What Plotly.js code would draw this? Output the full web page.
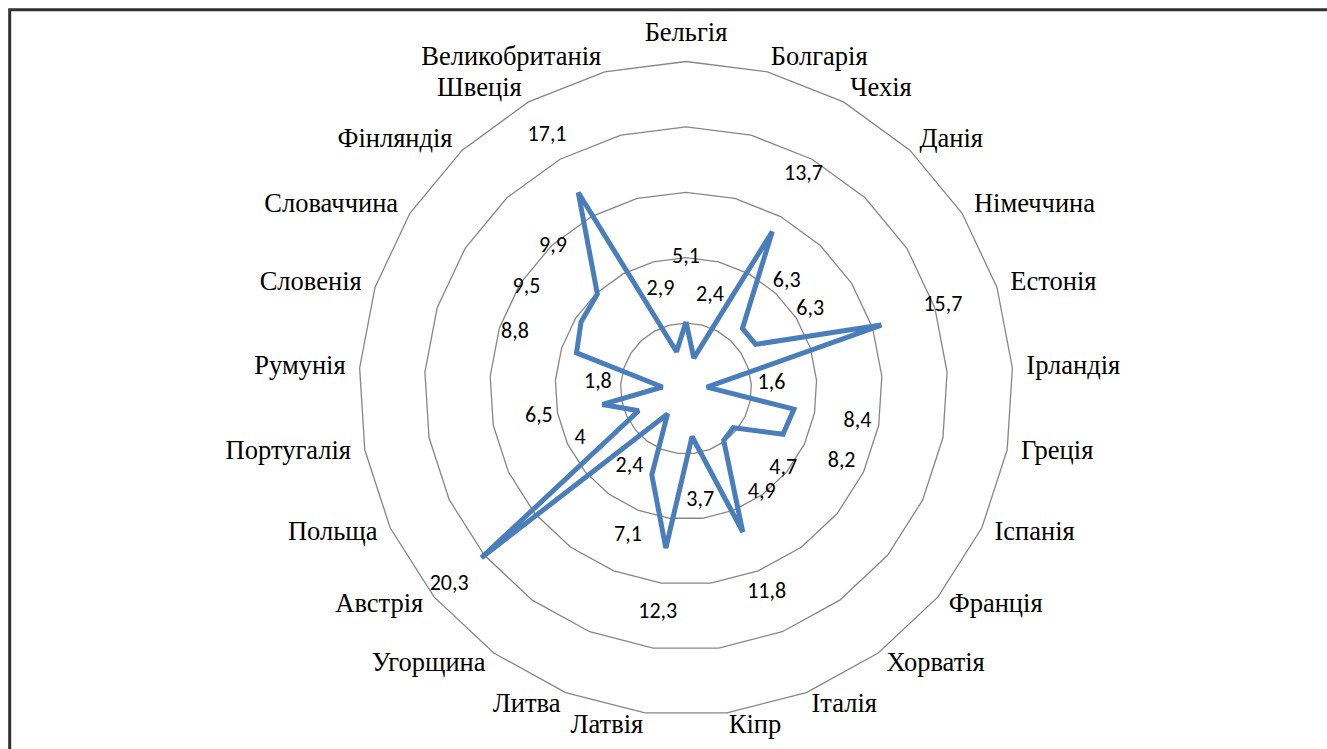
<!DOCTYPE html>
<html>
<head>
<meta charset="utf-8">
<script src="https://cdn.plot.ly/plotly-3.0.1.min.js"></script>
<style>
html,body{margin:0;padding:0;background:#fff;}
#chart{width:1327px;height:749px;}
</style>
</head>
<body>
<div id="chart"></div>
<script>
const countries = ["Бельгія","Болгарія","Чехія","Данія","Німеччина","Естонія","Ірландія","Греція","Іспанія","Франція","Хорватія","Італія","Кіпр","Латвія","Литва","Угорщина","Австрія","Польща","Португалія","Румунія","Словенія","Словаччина","Фінляндія","Швеція","Великобританія"];
const values = [5.1,2.4,13.7,6.3,6.3,15.7,1.6,8.4,8.2,4.7,4.9,11.8,3.7,12.3,7.1,2.4,20.3,4,6.5,1.8,8.8,9.5,9.9,17.1,2.9];
const gridValues = [5, 10, 15, 20, 25];
const valueLabels = values.map(v => String(v).replace('.', ','));
const rMax = 25;                // outer ring
const rRange = 27;              // axis range (room for category labels)
const labelOffset = 4.95;       // data-label distance beyond the point (axis units)
const labelMaxR = 23.5;         // data labels are kept inside the outer ring
const catLabelOffset = 1.07;    // category-label distance beyond the outer ring (axis units)

const n = countries.length;
const catPositions = countries.map((c, i) => {
  const ang = i * 360 / n;
  if (ang === 0) return 'top center';
  return ang < 180 ? 'middle right' : 'middle left';
});

// geometry of the polar area: centre and outer-ring radius in pixels
const W = 1327, H = 749, cx = 686, cy = 388.5, ringPx = 327;
const Rpx = ringPx * rRange / rMax;

const lineTrace = {
  type: 'scatterpolar',
  mode: 'lines',
  r: values.concat([values[0]]),
  theta: countries.concat([countries[0]]),
  line: {color: '#4a7ebb', width: 5, shape: 'linear'},
  hoverinfo: 'skip'
};
const textTrace = {
  type: 'scatterpolar',
  mode: 'text',
  r: values.map(v => Math.min(v + labelOffset, labelMaxR)),
  theta: countries,
  text: valueLabels,
  textposition: 'middle center',
  textfont: {family: 'Carlito, "Liberation Sans", Arial, sans-serif', size: 22, color: '#000'},
  cliponaxis: false,
  hoverinfo: 'skip'
};
const catTrace = {
  type: 'scatterpolar',
  mode: 'text',
  r: countries.map(() => rMax + catLabelOffset),
  theta: countries,
  text: countries,
  textposition: catPositions,
  textfont: {family: '"Liberation Serif", "Times New Roman", serif', size: 26.5, color: '#000'},
  cliponaxis: false,
  hoverinfo: 'skip'
};

const layout = {
  width: W, height: H,
  margin: {l: 0, r: 0, t: 0, b: 0},
  paper_bgcolor: '#fff',
  showlegend: false,
  hovermode: false,
  polar: {
    domain: {x: [(cx - Rpx) / W, (cx + Rpx) / W], y: [1 - (cy + Rpx) / H, 1 - (cy - Rpx) / H]},
    bgcolor: 'rgba(0,0,0,0)',
    gridshape: 'linear',
    radialaxis: {
      range: [0, rRange], tickmode: 'array', tickvals: gridValues,
      showticklabels: false, ticks: '', showline: false,
      gridcolor: '#868686', gridwidth: 1.3
    },
    angularaxis: {
      type: 'category',
      categoryarray: countries,
      rotation: 90, direction: 'clockwise',
      showgrid: false, ticks: '', showticklabels: false,
      showline: false
    }
  },
  shapes: [{
    type: 'rect', xref: 'paper', yref: 'paper',
    x0: 9.7/W, x1: 1.1, y0: -0.1, y1: 1 - 9.8/H,
    line: {color: '#303030', width: 3}
  }]
};

Plotly.newPlot('chart', [lineTrace, textTrace, catTrace], layout, {displayModeBar: false, staticPlot: true});
</script>
</body>
</html>
